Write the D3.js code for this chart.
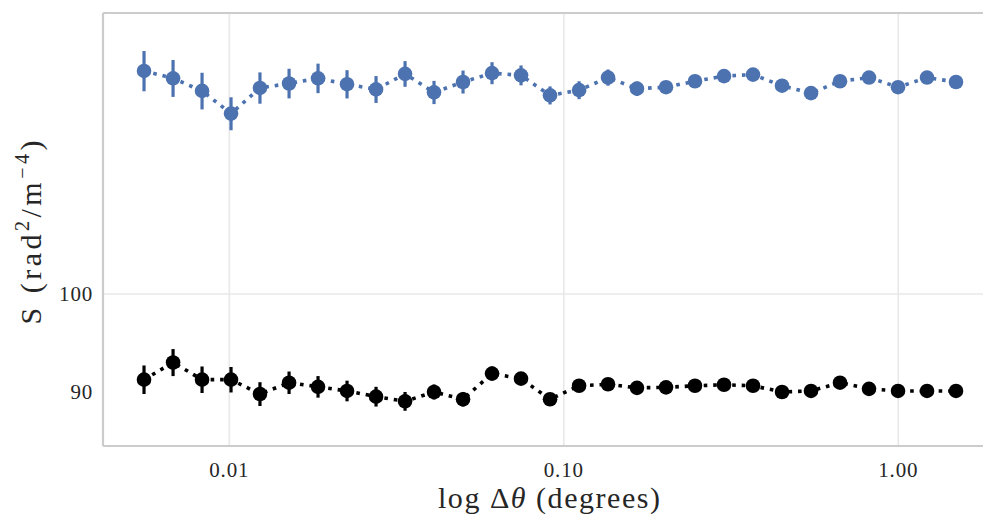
<!DOCTYPE html>
<html>
<head>
<meta charset="utf-8">
<script src="https://cdn.jsdelivr.net/npm/d3@7"></script>
<style>
  html, body { margin: 0; padding: 0; background: #fff; }
  svg { display: block; }
  text { font-family: "Liberation Serif", "DejaVu Serif", serif; fill: #262626; }
</style>
</head>
<body>
<svg id="chart"></svg>
<script>
// angular separation bins (degrees)
const xVals = [0.00556, 0.00679, 0.00829, 0.01012, 0.01235, 0.01509, 0.01842, 0.02249,
  0.02746, 0.03353, 0.04093, 0.04998, 0.06102, 0.07450, 0.09096, 0.1111, 0.1356,
  0.1655, 0.2021, 0.2467, 0.3013, 0.3679, 0.4492, 0.5484, 0.6696, 0.8176, 0.9982,
  1.2188, 1.4878];

// upper (blue) series
const blueVals = [127.1, 126.1, 124.4, 121.4, 124.8, 125.4, 126.1, 125.3, 124.6, 126.7,
  124.2, 125.6, 126.8, 126.5, 123.8, 124.5, 126.2, 124.7, 124.9, 125.7, 126.4, 126.6,
  125.1, 124.1, 125.7, 126.2, 124.9, 126.2, 125.6];
const blueErr = [2.75, 2.5, 2.45, 2.15, 2.1, 2.0, 2.0, 1.9, 1.8, 1.75, 1.55, 1.55, 1.5,
  1.35, 1.2, 1.2, 1.1, 0.95, 0.6, 0.5, 0.5, 0.4, 0.4, 0.4, 0.3, 0.3, 0.3, 0.3, 0.3];

// lower (black) series
const blackVals = [91.2, 92.9, 91.2, 91.2, 89.8, 90.9, 90.5, 90.1, 89.55, 89.1, 90.0,
  89.3, 91.8, 91.3, 89.3, 90.6, 90.75, 90.4, 90.45, 90.6, 90.7, 90.6, 90.0, 90.1, 90.9,
  90.3, 90.1, 90.1, 90.1];
const blackErr = [1.4, 1.35, 1.3, 1.25, 1.15, 1.1, 1.05, 1.0, 0.95, 0.9, 0.73, 0.7, 0.7,
  0.57, 0.4, 0.35, 0.3, 0.3, 0.3, 0.3, 0.3, 0.3, 0.3, 0.3, 0.3, 0.3, 0.3, 0.3, 0.3];

const xTicks = [0.01, 0.1, 1.0];
const xTickLabels = ["0.01", "0.10", "1.00"];
const yTicks = [90, 100];
const yTickLabels = ["90", "100"];
const yGridTicks = [100];

const series = [
  { vals: blueVals, err: blueErr, color: "#4c72b0" },
  { vals: blackVals, err: blackErr, color: "#000000" }
];

const width = 983, height = 524;
const margin = { top: 13, right: -12, bottom: 78, left: 103 };
const innerW = width - margin.left - margin.right;
const innerH = height - margin.top - margin.bottom;

const svg = d3.select("#chart").attr("width", width).attr("height", height);

const x = d3.scaleLog().domain([0.004192, 1.946]).range([margin.left, margin.left + innerW]);
const y = d3.scaleLog().domain([84.92, 135.27]).range([margin.top + innerH, margin.top]);

// grid
svg.append("g")
  .selectAll("line.vgrid")
  .data(xTicks)
  .join("line")
  .attr("x1", d => x(d)).attr("x2", d => x(d))
  .attr("y1", margin.top).attr("y2", margin.top + innerH)
  .attr("stroke", "#e8e8e8").attr("stroke-width", 1.6);

svg.append("g")
  .selectAll("line.hgrid")
  .data(yGridTicks)
  .join("line")
  .attr("x1", margin.left).attr("x2", margin.left + innerW)
  .attr("y1", d => y(d)).attr("y2", d => y(d))
  .attr("stroke", "#e8e8e8").attr("stroke-width", 1.6);

// spines
const spine = svg.append("g").attr("stroke", "#cccccc").attr("stroke-width", 2.2).attr("fill", "none");
spine.append("line").attr("x1", margin.left).attr("x2", margin.left)
  .attr("y1", margin.top).attr("y2", margin.top + innerH);
spine.append("line").attr("x1", margin.left).attr("x2", margin.left + innerW)
  .attr("y1", margin.top).attr("y2", margin.top);
spine.append("line").attr("x1", margin.left).attr("x2", margin.left + innerW)
  .attr("y1", margin.top + innerH).attr("y2", margin.top + innerH);

// tick labels
svg.append("g")
  .selectAll("text")
  .data(xTicks)
  .join("text")
  .attr("x", d => x(d))
  .attr("y", 477)
  .attr("text-anchor", "middle")
  .attr("font-size", 21)
  .attr("letter-spacing", 0.8)
  .text((d, i) => xTickLabels[i]);

svg.append("g")
  .selectAll("text")
  .data(yTicks)
  .join("text")
  .attr("x", 93)
  .attr("y", d => y(d))
  .attr("dy", "0.34em")
  .attr("text-anchor", "end")
  .attr("font-size", 21)
  .attr("letter-spacing", 0.8)
  .text((d, i) => yTickLabels[i]);

// axis labels
const xl = svg.append("text")
  .attr("x", margin.left + innerW / 2)
  .attr("y", 508)
  .attr("text-anchor", "middle")
  .attr("font-size", 30)
  .attr("textLength", 222)
  .attr("lengthAdjust", "spacing");
xl.append("tspan").text("log Δ");
xl.append("tspan").attr("font-style", "italic").text("θ");
xl.append("tspan").text(" (degrees)");

const yl = svg.append("text")
  .attr("transform", `translate(41,${margin.top + innerH / 2 + 3}) rotate(-90)`)
  .attr("text-anchor", "middle")
  .attr("font-size", 30)
  .attr("textLength", 184)
  .attr("lengthAdjust", "spacing");
yl.append("tspan").text("S (rad");
yl.append("tspan").attr("font-size", 20).attr("dy", -12).text("2");
yl.append("tspan").attr("dy", 12).text("/m");
yl.append("tspan").attr("font-size", 20).attr("dy", -12).text("−4");
yl.append("tspan").attr("dy", 12).text(")");

// series
const line = d3.line().x(d => x(d.x)).y(d => y(d.v));

series.forEach(s => {
  const pts = xVals.map((xv, i) => ({ x: xv, v: s.vals[i], e: s.err[i] }));
  const g = svg.append("g");

  g.append("path")
    .datum(pts)
    .attr("d", line)
    .attr("fill", "none")
    .attr("stroke", s.color)
    .attr("stroke-width", 3.6)
    .attr("stroke-dasharray", "3.6,5.9");

  g.selectAll("line.err")
    .data(pts)
    .join("line")
    .attr("x1", d => x(d.x)).attr("x2", d => x(d.x))
    .attr("y1", d => y(d.v - d.e)).attr("y2", d => y(d.v + d.e))
    .attr("stroke", s.color)
    .attr("stroke-width", 3.2);

  g.selectAll("circle")
    .data(pts)
    .join("circle")
    .attr("cx", d => x(d.x))
    .attr("cy", d => y(d.v))
    .attr("r", 7.3)
    .attr("fill", s.color);
});
</script>
</body>
</html>
